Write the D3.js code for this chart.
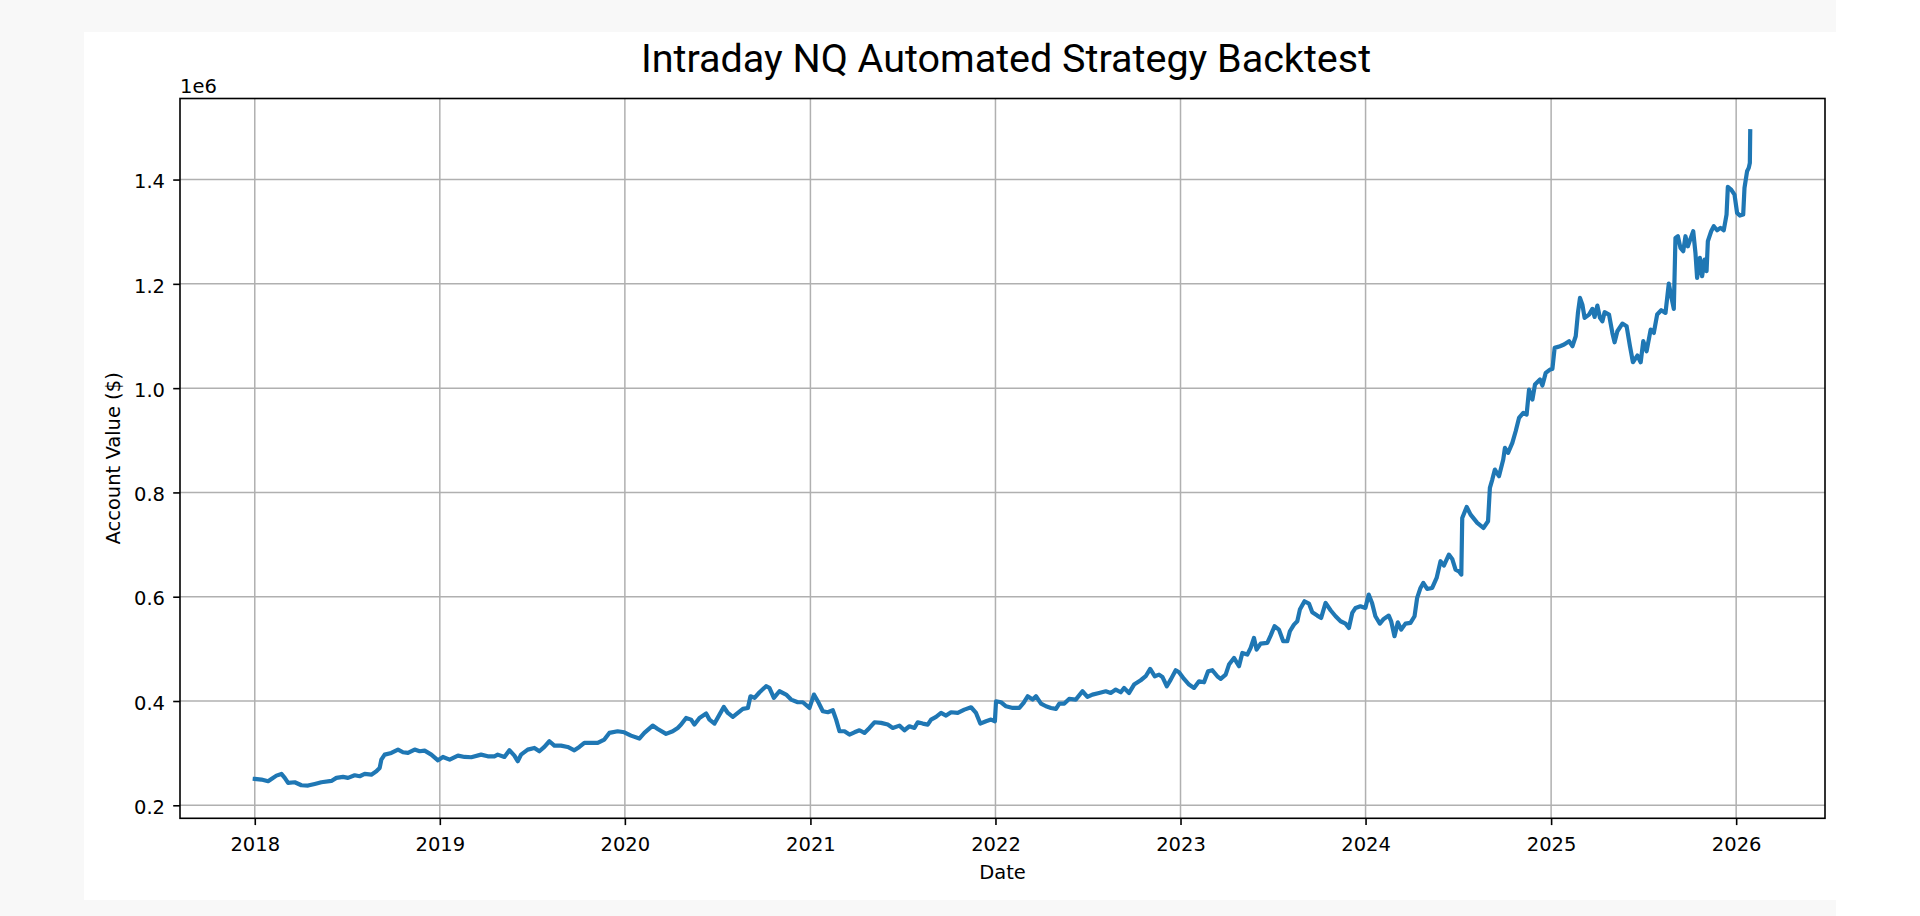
<!DOCTYPE html>
<html>
<head>
<meta charset="utf-8">
<script src="https://cdn.jsdelivr.net/npm/d3@7"></script>
<style>
  html, body { margin: 0; padding: 0; background: #ffffff; }
  svg { display: block; }
</style>
</head>
<body>
<svg id="chart" width="1920" height="916"></svg>
<script>
// ---------------- DATA ----------------
const chartTitle = "Intraday NQ Automated Strategy Backtest";
const xAxisLabel = "Date";
const yAxisLabel = "Account Value ($)";
const yOffsetLabel = "1e6";

// Dates as decimal years
const dateYears = [
  2018.000,2018.036,2018.072,2018.090,2018.117,2018.144,2018.162,2018.180,2018.216,2018.252,
  2018.288,2018.324,2018.360,2018.414,2018.441,2018.477,2018.504,2018.540,2018.567,2018.594,
  2018.630,2018.657,2018.675,2018.684,2018.702,2018.738,2018.774,2018.801,2018.828,2018.864,
  2018.891,2018.918,2018.954,2018.990,2019.017,2019.053,2019.098,2019.134,2019.170,2019.223,
  2019.259,2019.295,2019.313,2019.349,2019.376,2019.403,2019.421,2019.439,2019.475,2019.511,
  2019.538,2019.565,2019.592,2019.619,2019.655,2019.691,2019.727,2019.754,2019.781,2019.817,
  2019.853,2019.889,2019.916,2019.961,2019.997,2020.033,2020.078,2020.105,2020.150,2020.177,
  2020.222,2020.258,2020.285,2020.303,2020.330,2020.357,2020.375,2020.402,
  2020.438,2020.456,2020.483,2020.510,2020.533,2020.555,2020.582,2020.609,2020.636,2020.663,
  2020.677,2020.699,2020.726,2020.761,2020.779,2020.803,2020.833,2020.869,2020.896,2020.932,
  2020.959,2020.995,2021.019,2021.040,2021.067,2021.094,2021.121,2021.139,2021.157,2021.184,
  2021.211,2021.238,2021.265,2021.292,2021.319,2021.346,2021.382,2021.418,2021.445,2021.481,
  2021.508,2021.535,2021.562,2021.580,2021.607,2021.634,2021.652,2021.679,2021.706,2021.733,
  2021.760,2021.796,2021.832,2021.868,2021.895,2021.918,2021.949,2021.976,2021.997,2022.003,
  2022.030,2022.057,2022.093,2022.129,2022.152,2022.174,2022.201,2022.219,2022.246,2022.273,
  2022.300,2022.327,2022.345,2022.372,2022.398,2022.434,2022.470,2022.497,2022.524,2022.560,
  2022.596,2022.623,2022.650,2022.677,2022.695,2022.722,2022.749,2022.785,2022.812,2022.836,
  2022.861,2022.884,2022.902,2022.926,2022.947,2022.974,2022.992,2023.019,2023.046,2023.073,
  2023.100,2023.127,2023.149,2023.172,2023.199,2023.217,2023.244,2023.262,2023.289,2023.316,
  2023.334,2023.361,2023.379,2023.397,2023.411,2023.433,2023.469,2023.487,2023.508,2023.532,
  2023.555,2023.577,2023.591,2023.613,2023.631,2023.645,2023.670,2023.694,2023.712,2023.739,
  2023.760,2023.784,2023.811,2023.838,2023.865,2023.892,2023.910,2023.928,2023.946,2023.972,
  2023.999,2024.017,2024.035,2024.053,2024.077,2024.098,2024.125,2024.138,2024.156,2024.174,
  2024.192,2024.215,2024.242,2024.264,2024.278,
  2024.296,2024.311,2024.332,2024.359,2024.383,2024.404,2024.422,2024.449,2024.467,2024.485,
  2024.503,2024.516,2024.521,2024.545,2024.566,2024.602,2024.635,2024.660,2024.670,2024.683,
  2024.697,2024.719,2024.742,2024.751,2024.768,2024.791,2024.809,2024.827,2024.850,2024.868,
  2024.881,2024.899,2024.913,2024.940,2024.953,2024.971,2024.994,2025.007,2025.019,2025.048,
  2025.070,2025.097,2025.115,2025.133,2025.145,2025.156,2025.169,2025.181,2025.205,2025.223,
  2025.235,2025.250,2025.264,2025.277,2025.289,2025.313,2025.331,2025.343,2025.358,2025.385,
  2025.408,2025.426,2025.442,2025.466,2025.484,2025.498,2025.516,2025.538,2025.555,2025.573,
  2025.595,2025.618,2025.636,2025.649,2025.663,2025.672,2025.685,2025.699,2025.714,2025.726,
  2025.739,2025.753,2025.768,2025.780,2025.789,2025.804,2025.816,2025.829,2025.840,2025.847,
  2025.865,2025.879,2025.897,2025.915,2025.933,2025.948,2025.955,2025.973,2025.991,2026.005,
  2026.020,2026.038,2026.045,2026.059,2026.068,2026.074,2026.076
];

// Account value in dollars
const accountValues = [
  250500,249300,246100,250500,256900,260100,252500,242900,244200,238400,
  237800,241000,244200,246700,252500,254400,252500,257600,255700,260100,
  258800,265200,271600,287600,297200,300400,306800,301700,300400,306800,
  303600,304900,297200,286300,292700,287600,295300,292700,292100,297200,
  294000,294000,297200,292700,305500,295300,284400,297200,306800,310000,
  303600,311900,322800,314500,314500,311900,305500,311900,319600,319600,
  319600,326000,338800,342000,340000,333600,327900,338800,352800,346400,
  336900,342000,348400,354800,367500,364300,354800,367500,
  375900,364300,356700,373900,388600,377100,369500,377100,384800,386700,
  409100,405900,416800,428300,425100,405900,418700,412300,402700,397600,
  397600,386700,412300,399500,380300,378400,382200,364300,342000,342000,
  335600,340000,343900,338800,348400,359200,358000,354800,348400,352800,
  343900,351600,348400,359200,356700,354800,364300,369500,377100,372000,
  378400,377100,383500,388000,377100,356700,361200,364300,361200,399500,
  397600,389900,386700,386700,396300,409100,402700,409100,395000,389900,
  386700,384800,395000,395000,404000,402700,418700,407800,412300,415500,
  418700,415500,421900,416800,425100,415500,431500,439800,447500,461500,
  447400,450600,446200,428300,441000,459000,455100,442300,431500,425100,
  437900,435900,457000,459000,447400,442300,450600,469800,482600,466600,
  492200,489000,501800,521000,498600,510100,511400,525400,543300,536900,
  514600,514600,533800,546500,552900,575300,591300,586800,570200,563800,
  559300,588100,574000,562500,552900,548400,540100,568900,578500,581700,
  578500,604100,588100,562500,548400,557400,563800,552900,524200,551000,
  536900,548400,549700,562500,597700,
  616800,626400,614900,616800,636000,668000,659700,680800,672500,652000,
  648800,642400,751100,772200,757500,741500,731900,744700,808700,824600,
  843800,831000,863000,885300,875800,894900,917300,942900,952500,949300,
  997200,978000,1006800,1016400,1004900,1029200,1035600,1036900,1077200,1080400,
  1083600,1090000,1080400,1099500,1144300,1173000,1160200,1134700,1141100,1151900,
  1136600,1158300,1134700,1128300,1145600,1141100,1105900,1088000,1109100,1123800,
  1118700,1080400,1049700,1062500,1049700,1090000,1070800,1112300,1105900,1141100,
  1149400,1144300,1200500,1176200,1151900,1288100,1291300,1268900,1262500,1291300,
  1272100,1286200,1300900,1259300,1211400,1249800,1214600,1246600,1224200,1281700,
  1300900,1310500,1302800,1307300,1302800,1332900,1385900,1380800,1371200,1336100,
  1331000,1332900,1384000,1416000,1422400,1432000,1492700
];

const yearTicks = [2018, 2019, 2020, 2021, 2022, 2023, 2024, 2025, 2026];
const yTickValues = [200000, 400000, 600000, 800000, 1000000, 1200000, 1400000];

// ---------------- LAYOUT ----------------
const W = 1920, H = 916;
const plot = { left: 180, top: 98.5, right: 1825, bottom: 818.3 };
const tickFont = "'DejaVu Sans', sans-serif";
const tickSize = 19.5;

function yearToDate(y) {
  const yr = Math.floor(y);
  const s = Date.UTC(yr, 0, 1), e = Date.UTC(yr + 1, 0, 1);
  return new Date(s + (y - yr) * (e - s));
}

const data = dateYears.map((t, i) => ({ date: yearToDate(t), value: accountValues[i] }));

const svg = d3.select("#chart");

// page background frame
svg.append("rect").attr("x", 0).attr("y", 0).attr("width", W).attr("height", H).attr("fill", "#ffffff");
svg.append("path")
  .attr("d", "M0,0H1836V32H84V900H1836V916H0Z")
  .attr("fill", "#f8f8f8");

// scales with matplotlib-like 5% margins
const tExt = d3.extent(data, d => +d.date);
const tPad = (tExt[1] - tExt[0]) * 0.05;
const x = d3.scaleUtc()
  .domain([new Date(tExt[0] - tPad), new Date(tExt[1] + tPad)])
  .range([plot.left, plot.right]);

const vExt = d3.extent(data, d => d.value);
const vPad = (vExt[1] - vExt[0]) * 0.05;
const y = d3.scaleLinear()
  .domain([vExt[0] - vPad, vExt[1] + vPad])
  .range([plot.bottom, plot.top]);

const xTickDates = yearTicks.map(yr => new Date(Date.UTC(yr, 0, 1)));

// grid
const grid = svg.append("g").attr("class", "grid");
grid.selectAll("line.vx").data(xTickDates).join("line")
  .attr("x1", d => x(d)).attr("x2", d => x(d))
  .attr("y1", plot.top).attr("y2", plot.bottom)
  .attr("stroke", "#b0b0b0").attr("stroke-width", 1.5);
grid.selectAll("line.hy").data(yTickValues).join("line")
  .attr("x1", plot.left).attr("x2", plot.right)
  .attr("y1", d => y(d)).attr("y2", d => y(d))
  .attr("stroke", "#b0b0b0").attr("stroke-width", 1.5);

// line
const line = d3.line().x(d => x(d.date)).y(d => y(d.value));
svg.append("path")
  .datum(data)
  .attr("d", line)
  .attr("fill", "none")
  .attr("stroke", "#1f77b4")
  .attr("stroke-width", 4.2)
  .attr("stroke-linejoin", "round")
  .attr("stroke-linecap", "square");

// spines
svg.append("rect")
  .attr("x", plot.left).attr("y", plot.top)
  .attr("width", plot.right - plot.left).attr("height", plot.bottom - plot.top)
  .attr("fill", "none").attr("stroke", "#000").attr("stroke-width", 1.6);

// axes
const xAxis = d3.axisBottom(x).tickValues(xTickDates).tickFormat(d3.utcFormat("%Y")).tickSize(6.8).tickSizeOuter(0);
const gx = svg.append("g").attr("transform", `translate(0,${plot.bottom})`).call(xAxis);
gx.select(".domain").remove();
gx.selectAll(".tick line").attr("stroke", "#000").attr("stroke-width", 1.6);
gx.selectAll(".tick text")
  .attr("y", 32.4).attr("dy", null)
  .attr("fill", "#000")
  .style("font-family", tickFont).style("font-size", tickSize + "px");

const yAxis = d3.axisLeft(y).tickValues(yTickValues).tickFormat(d => (d / 1e6).toFixed(1)).tickSize(6.8).tickSizeOuter(0);
const gy = svg.append("g").attr("transform", `translate(${plot.left},0)`).call(yAxis);
gy.select(".domain").remove();
gy.selectAll(".tick line").attr("stroke", "#000").attr("stroke-width", 1.6);
gy.selectAll(".tick text")
  .attr("x", -15).attr("dy", "0.42em")
  .attr("fill", "#000")
  .style("font-family", tickFont).style("font-size", tickSize + "px");

// offset text
svg.append("text")
  .attr("x", plot.left).attr("y", 93.3)
  .attr("fill", "#000")
  .style("font-family", tickFont).style("font-size", tickSize + "px")
  .text(yOffsetLabel);

// axis labels
svg.append("text")
  .attr("x", (plot.left + plot.right) / 2).attr("y", 879)
  .attr("text-anchor", "middle").attr("fill", "#000")
  .style("font-family", tickFont).style("font-size", tickSize + "px")
  .text(xAxisLabel);

svg.append("text")
  .attr("transform", `translate(120,${(plot.top + plot.bottom) / 2}) rotate(-90)`)
  .attr("text-anchor", "middle").attr("fill", "#000")
  .style("font-family", tickFont).style("font-size", tickSize + "px")
  .text(yAxisLabel);

// title
svg.append("text")
  .attr("x", 1006).attr("y", 72.3)
  .attr("text-anchor", "middle").attr("fill", "#000")
  .style("font-family", "Roboto, 'Liberation Sans', sans-serif").style("font-size", "39.5px")
  .text(chartTitle);
</script>
</body>
</html>
